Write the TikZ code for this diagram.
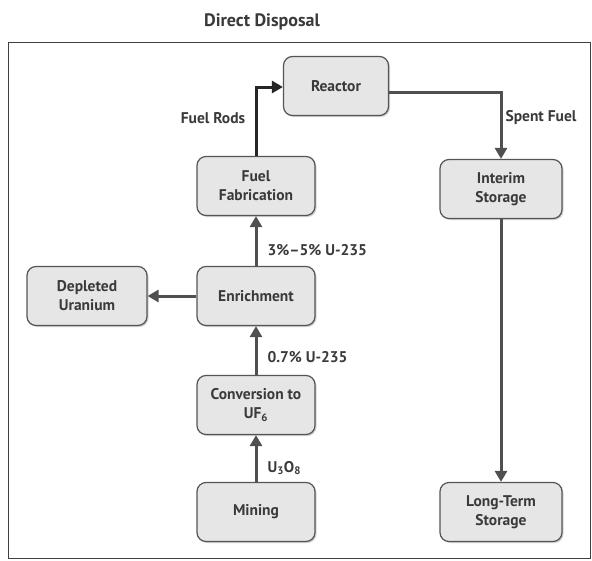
\documentclass[tikz,border=0pt]{standalone}
\usepackage{fontspec}
\setmainfont{PT Sans}
\usetikzlibrary{arrows.meta,shadows}
\definecolor{boxfill}{HTML}{E6E6E6}
\definecolor{boxline}{HTML}{555555}
\definecolor{txt}{HTML}{3A3A3A}
\definecolor{arr}{HTML}{505050}
\begin{document}
\begin{tikzpicture}[x=1pt,y=-1pt,
  stagebox/.style={draw=boxline,line width=1.2pt,fill=boxfill,rounded corners=9pt,
    minimum width=118pt,minimum height=59pt,align=center,text=txt,
    font=\bfseries\fontsize{15.5}{19}\selectfont,
    drop shadow={shadow xshift=1.5pt,shadow yshift=-1.5pt,fill=black!35}},
  flow/.style={draw=arr,line width=3pt,-{Triangle[length=11pt,width=12pt]}},
  lbl/.style={text=txt,font=\bfseries\fontsize{15.5}{18}\selectfont}]
\useasboundingbox (0,0) rectangle (592,560);
\fill[white] (0,0) rectangle (592,560);
\node[text=txt,font=\bfseries\fontsize{18}{21}\selectfont] (title) at (262,22) {Direct Disposal};
\draw[black!75,line width=1pt] (590,42) -- (8,42) -- (8,558) -- (590,558) -- cycle;

\node[stagebox,minimum width=105pt] (reactor) at (336,86) {Reactor};
\node[stagebox] (fab) at (256,186) {Fuel\\Fabrication};
\node[stagebox] (enr) at (256,296) {Enrichment};
\node[stagebox,minimum width=120pt] (dep) at (87,296) {Depleted\\Uranium};
\node[stagebox] (conv) at (256,405) {Conversion to\\UF\textsubscript{6}};
\node[stagebox] (mine) at (256,512) {Mining};
\node[stagebox,minimum width=122pt] (interim) at (501,189) {Interim\\Storage};
\node[stagebox,minimum width=122pt] (long) at (501,512) {Long-Term\\Storage};

\coordinate (c1) at (256,87);
\coordinate (c2) at (501,92);
\draw[flow,draw=black!85,line join=miter] (fab.north) -- (c1) -- (reactor.west |- c1);
\draw[flow,line join=miter] (reactor.east |- c2) -- (c2) -- (interim.north);
\draw[flow] (interim.south) -- (long.north);
\draw[flow] (mine.north) -- (conv.south);
\draw[flow] (conv.north) -- (enr.south);
\draw[flow] (enr.north) -- (fab.south);
\draw[flow] (enr.west) -- (dep.east);

\node[lbl] (lrods) at (213,118) {Fuel Rods};
\node[lbl] (lspent) at (541,118) {Spent Fuel};
\node[lbl,anchor=west] (l35) at (264,250) {3\%--5\% U-235};
\node[lbl,anchor=west] (l07) at (264,357) {0.7\% U-235};
\node[lbl,anchor=west] (lu3o8) at (264,468) {U\textsubscript{3}O\textsubscript{8}};
\end{tikzpicture}
\end{document}
